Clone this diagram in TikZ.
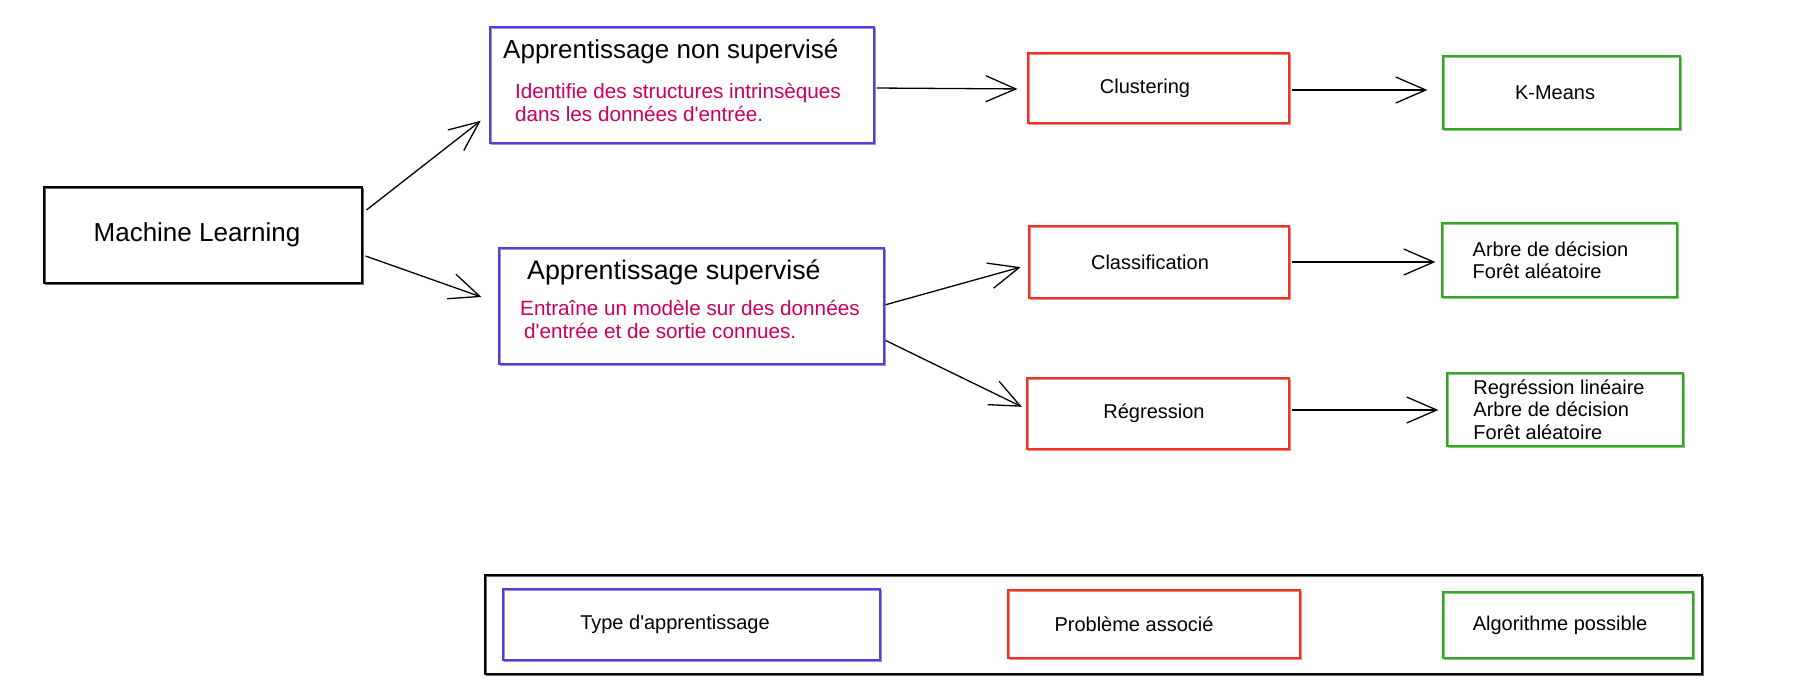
\documentclass[tikz,border=0pt]{standalone}
\usepackage{fontspec}
\newfontfamily\mlfont{Liberation Sans}
\usepackage{tikz}
\usetikzlibrary{positioning, arrows.meta}
\definecolor{typeblue}{RGB}{80,64,214}
\definecolor{probred}{RGB}{235,52,40}
\definecolor{algogreen}{RGB}{52,165,36}
\definecolor{descpink}{RGB}{204,0,92}
\tikzset{
x=1pt, y=-1pt, % one unit per pixel, y going down
>={Straight Barb[length=30pt,width=26pt]}, % open arrow heads
every node/.style={font=\mlfont\fontsize{20}{22.5}\selectfont, inner sep=0pt},
box/.style={draw, rectangle, line width=1.3pt,
  postaction={draw, line width=0.7pt, draw opacity=0.6, transform canvas={xshift=1pt, yshift=-1.2pt}}}, % sketchy double stroke
typebox/.style={box, draw=typeblue}, % type of learning
probbox/.style={box, draw=probred}, % associated problem
algobox/.style={box, draw=algogreen, align=left}, % possible algorithm
title/.style={font=\mlfont\fontsize{26}{31}\selectfont},
desc/.style={anchor=base west, align=left, text=descpink, font=\mlfont\fontsize{20.7}{23}\selectfont},
link/.style={->, line width=1.3pt},
}

\begin{document}
\begin{tikzpicture}
\useasboundingbox (0,0) rectangle (1807,681);
% learning types
\node[box, title, minimum width=318pt, minimum height=96pt] (ml) at (203,235) {Machine Learning\hspace*{12pt}};
\node[typebox, minimum width=384pt, minimum height=116pt] (unsup) at (682,85) {};
\node[title, anchor=base west] (unsuptitle) at (503,58) {Apprentissage non supervisé};
\node[desc] (unsupdesc) at (515,121) {Identifie des structures intrinsèques\\dans les données d'entrée.};
\node[typebox, minimum width=385pt, minimum height=116pt] (sup) at (691.5,306) {};
\node[title, anchor=base west, font=\mlfont\fontsize{26.8}{31}\selectfont] (suptitle) at (527,279) {Apprentissage supervisé};
\node[desc] (supdesc) at (520,338) {Entraîne un modèle sur des données\\\hspace*{4pt}d'entrée et de sortie connues.};

% problems
\node[probbox, minimum width=261pt, minimum height=70pt] (clust) at (1158.5,88) {Clustering\hspace*{27pt}};
\node[probbox, minimum width=260pt, minimum height=72pt] (class) at (1159,262) {Classification\hspace*{18pt}};
\node[probbox, minimum width=262pt, minimum height=71pt] (regr) at (1158,413.5) {Régression\hspace*{8pt}};

% algorithms
\node[algobox, minimum width=237pt, minimum height=73pt] (kmeans) at (1561.5,92.5) {K-Means\hspace*{13pt}};
\node[algobox, minimum width=235pt, minimum height=74pt] (algclass) at (1559.5,260) {Arbre de décision\hspace*{18pt}\\Forêt aléatoire};
\node[algobox, minimum width=236pt, minimum height=73pt] (algregr) at (1565,409.5) {Regréssion linéaire\hspace*{12pt}\\Arbre de décision\\Forêt aléatoire};

% legend
\node[box, minimum width=1217pt, minimum height=99pt] (legend) at (1093.5,624.5) {};
\node[typebox, minimum width=377pt, minimum height=71pt] (legtype) at (691.5,624.5) {Type d'apprentissage\hspace*{33pt}};
\node[probbox, minimum width=292pt, minimum height=68pt] (legprob) at (1154,624) {Problème associé\hspace*{40pt}};
\node[algobox, minimum width=250pt, minimum height=66pt] (legalgo) at (1568,625) {Algorithme possible\hspace*{16pt}};

\draw[link, shorten <=5pt, shorten >=11pt] ([yshift=22pt]ml.east) -- ([yshift=-29pt]unsup.west);
\draw[link, shorten <=3pt, shorten >=18pt] ([yshift=-20pt]ml.east) -- ([yshift=3pt]sup.west);
\draw[link, shorten <=2pt, shorten >=10pt] ([yshift=-3pt]unsup.east) -- ([yshift=-1pt]clust.west);
\draw[link, shorten <=2pt, shorten >=15pt] ([yshift=-2pt]clust.east) -- ([yshift=-2pt]clust.east -| kmeans.west);
\draw[link, shorten <=1pt, shorten >=8pt] ([yshift=1pt]sup.east) -- ([yshift=-3pt]class.west);
\draw[link, shorten <=1pt, shorten >=5pt] ([yshift=-34pt]sup.east) -- ([yshift=4.5pt]regr.west);
\draw[link, shorten <=2pt, shorten >=6pt] (class.east) -- (class.east -| algclass.west);
\draw[link, shorten <=2pt, shorten >=8pt] ([yshift=3.5pt]regr.east) -- ([yshift=3.5pt]regr.east -| algregr.west);
\end{tikzpicture}
\end{document}
